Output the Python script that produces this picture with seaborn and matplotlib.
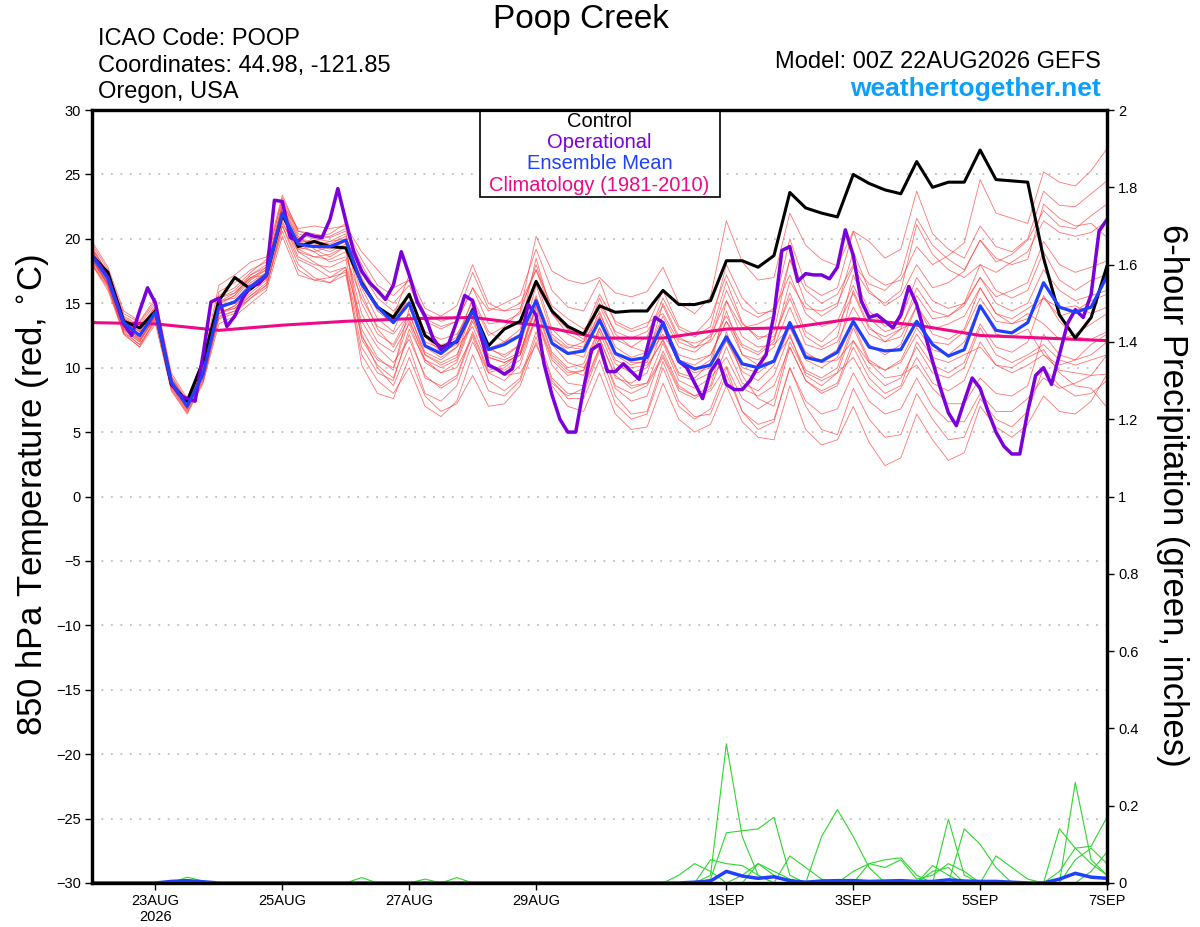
import matplotlib
matplotlib.use("Agg")
import matplotlib.pyplot as plt
from matplotlib.patches import Rectangle
import pandas as pd
import seaborn as sns

sns.set_theme(style="white")
plt.rcParams['font.family'] = ['Liberation Sans', 'DejaVu Sans']
plt.rcParams['text.color'] = 'black'
plt.rcParams['xtick.color'] = 'black'
plt.rcParams['ytick.color'] = 'black'

# --- tempos ---
times = pd.date_range("2026-08-22 00:00", periods=65, freq="6h")
times_op = pd.date_range("2026-08-22 00:00", periods=129, freq="3h")
times_clim = pd.date_range("2026-08-22", periods=17, freq="D")

# --- temperatura 850 hPa (C) ---
control = [18.7, 17.4, 13.6, 13.1, 14.4, 8.7, 7.4, 10.5, 15.2, 17.0, 16.1, 17.2, 21.9,
           19.4, 19.8, 19.4, 19.3, 16.6, 14.7, 13.9, 15.7, 12.5, 11.6, 12.0, 14.5, 11.7,
           13.0, 13.6, 16.7, 14.4, 13.2, 12.6, 14.8, 14.3, 14.4, 14.4, 16.0, 14.9, 14.9,
           15.2, 18.3, 18.3, 17.8, 18.7, 23.6, 22.4, 22.0, 21.7, 25.0, 24.3, 23.8, 23.5,
           26.0, 24.0, 24.4, 24.4, 26.9, 24.6, 24.5, 24.4, 18.5, 14.1, 12.3, 13.9, 17.9]

ens_mean = [18.7, 16.9, 13.5, 12.5, 14.3, 8.9, 7.0, 9.5, 14.7, 15.1, 16.3, 17.2, 22.0,
            19.6, 19.4, 19.4, 19.9, 16.5, 14.7, 13.5, 15.0, 11.7, 11.1, 12.1, 14.4, 11.4,
            11.8, 12.5, 15.2, 11.9, 11.1, 11.3, 13.7, 11.1, 10.6, 10.8, 13.5, 10.5, 9.9,
            10.2, 12.4, 10.3, 10.0, 10.5, 13.5, 10.8, 10.5, 11.2, 13.6, 11.6, 11.3, 11.4,
            13.6, 11.8, 10.9, 11.4, 14.8, 12.9, 12.7, 13.5, 16.6, 14.7, 14.3, 14.7, 17.1]

operational = [18.7, 17.9, 17.0, 15.2, 13.4, 12.5, 14.4, 16.2, 15.0, 11.7, 8.8, 7.9, 7.6,
               7.4, 11.0, 15.1, 15.4, 13.2, 14.0, 15.4, 16.3, 16.5, 17.2, 23.0, 22.9, 20.1,
               19.8, 20.4, 20.2, 20.1, 21.5, 23.9, 21.4, 19.0, 17.5, 16.6, 16.0, 15.3, 16.4,
               19.0, 17.2, 15.1, 14.0, 12.3, 11.4, 11.9, 13.6, 15.6, 15.2, 12.6, 10.2, 9.9,
               9.5, 9.9, 12.1, 14.9, 14.1, 10.3, 7.9, 6.0, 5.0, 5.0, 8.4, 11.4, 11.8,
               9.7, 9.7, 10.3, 9.7, 9.1, 11.5, 13.9, 13.5, 11.9, 10.5, 10.0, 8.8, 7.6,
               9.7, 10.6, 8.7, 8.3, 8.3, 9.0, 10.1, 11.0, 14.1, 19.1, 19.4, 16.7, 17.3,
               17.2, 17.2, 16.9, 17.8, 20.7, 18.7, 15.2, 13.9, 14.1, 13.6, 13.1, 14.1, 16.3,
               14.9, 12.7, 10.5, 8.4, 6.5, 5.5, 7.4, 9.2, 8.4, 6.6, 5.0, 3.9, 3.3,
               3.3, 6.6, 9.4, 10.0, 8.7, 11.0, 13.4, 14.5, 13.9, 15.7, 20.6, 21.5]

climatology = [13.5, 13.4, 12.9, 13.3, 13.6, 13.8, 13.9, 13.3, 12.3, 12.3, 13.0, 13.1,
               13.8, 13.3, 12.5, 12.3, 12.1]

# membros do ensemble (65 valores cada)
members = [
    [19.6, 17.6, 14.0, 13.3, 15.0, 9.3, 7.3, 10.3, 15.9, 16.6, 17.6, 18.2, 23.2, 20.6, 20.4, 20.1,
     20.6, 18.0, 15.8, 15.0, 16.4, 13.6, 13.0, 13.6, 16.2, 14.4, 15.0, 15.6, 19.2, 16.0, 14.7, 14.4,
     16.8, 13.4, 12.8, 13.2, 16.0, 13.2, 12.6, 13.9, 17.2, 14.6, 13.9, 14.6, 20.0, 16.4, 15.6, 16.2,
     20.6, 17.2, 16.4, 16.8, 19.4, 18.0, 18.7, 19.7, 24.6, 22.0, 21.6, 21.2, 25.2, 24.4, 24.1, 25.3, 27.0],
    [18.2, 16.5, 13.0, 12.0, 14.0, 8.6, 6.8, 9.2, 14.2, 14.8, 16.0, 17.0, 22.2, 19.8, 19.8, 19.6,
     20.2, 16.8, 14.8, 13.8, 15.2, 12.0, 11.5, 12.4, 15.2, 12.5, 13.2, 14.4, 20.2, 17.5, 16.8, 16.5,
     17.0, 15.8, 15.5, 15.9, 17.8, 15.0, 14.2, 15.5, 21.4, 18.2, 16.8, 17.0, 22.0, 19.5, 18.4, 17.9,
     20.6, 19.8, 18.5, 19.2, 23.7, 20.4, 19.2, 18.5, 21.0, 19.4, 19.0, 20.0, 23.7, 22.6, 22.5, 23.5, 24.5],
    [19.0, 17.2, 13.6, 12.8, 14.6, 9.0, 7.1, 9.8, 15.2, 15.4, 16.8, 17.6, 22.6, 20.0, 19.6, 19.2,
     19.8, 15.0, 12.6, 11.8, 14.2, 11.0, 10.4, 11.0, 13.8, 11.5, 12.0, 12.6, 16.8, 13.0, 11.8, 11.6,
     15.0, 12.8, 12.3, 12.8, 14.8, 12.2, 11.9, 12.4, 15.2, 13.1, 13.4, 14.0, 18.4, 16.0, 15.0, 15.7,
     18.0, 16.5, 16.0, 17.2, 21.6, 19.5, 18.4, 17.6, 19.9, 18.2, 18.8, 19.9, 22.2, 21.0, 20.8, 21.8, 22.7],
    [18.4, 16.4, 13.2, 12.3, 14.4, 8.8, 7.0, 9.6, 14.6, 15.2, 16.4, 17.4, 21.8, 19.2, 19.4, 19.8,
     20.4, 16.2, 13.8, 12.8, 15.8, 12.4, 11.2, 11.8, 14.2, 11.0, 10.6, 11.2, 14.8, 12.2, 11.5, 12.0,
     15.4, 12.6, 11.6, 11.2, 13.2, 11.0, 10.6, 11.0, 13.6, 11.6, 11.0, 12.0, 16.7, 14.6, 14.4, 15.0,
     17.8, 15.8, 15.0, 16.0, 21.1, 18.8, 17.6, 17.0, 18.0, 17.4, 18.2, 19.0, 21.4, 20.5, 20.2, 20.5, 21.4],
    [19.0, 17.0, 13.4, 12.2, 14.0, 8.7, 6.9, 9.4, 14.9, 15.6, 16.9, 17.8, 22.8, 20.2, 19.2, 18.6,
     19.4, 13.0, 10.8, 9.8, 14.6, 12.4, 11.8, 12.0, 15.4, 12.8, 12.0, 13.0, 18.5, 14.2, 13.0, 12.6,
     15.7, 13.6, 13.0, 13.5, 14.2, 12.0, 11.5, 12.6, 16.7, 13.5, 12.2, 12.8, 18.4, 15.0, 14.0, 14.8,
     19.0, 16.0, 14.8, 15.6, 18.0, 16.2, 16.6, 17.5, 19.9, 18.5, 18.0, 18.4, 22.7, 21.6, 21.0, 21.2, 20.1],
    [18.6, 16.8, 13.4, 12.6, 14.2, 8.9, 7.0, 9.4, 14.4, 14.6, 15.8, 16.8, 21.6, 19.4, 19.0, 19.4,
     19.9, 16.6, 14.4, 13.4, 15.0, 11.6, 10.8, 11.6, 14.2, 10.8, 10.4, 11.0, 15.4, 12.4, 11.2, 10.8,
     13.9, 11.2, 10.6, 10.8, 12.6, 10.6, 10.2, 11.0, 13.6, 11.0, 10.6, 11.6, 14.7, 11.8, 11.4, 12.0,
     14.7, 12.6, 12.0, 13.0, 16.2, 14.4, 14.0, 14.8, 17.0, 15.5, 16.0, 16.6, 19.8, 18.0, 17.4, 17.8, 18.3],
    [18.0, 16.2, 12.8, 11.8, 13.8, 8.4, 6.6, 9.0, 14.0, 14.4, 15.6, 16.6, 21.2, 19.0, 18.6, 18.8,
     19.4, 12.2, 10.2, 9.2, 12.6, 9.2, 8.6, 9.4, 12.8, 9.8, 10.2, 11.2, 14.8, 11.2, 10.0, 10.3,
     13.1, 10.3, 9.6, 10.0, 12.2, 9.6, 9.2, 10.4, 12.1, 9.7, 9.0, 10.2, 13.1, 10.6, 10.0, 10.8,
     13.6, 11.8, 11.0, 11.8, 14.8, 12.6, 12.2, 13.0, 16.2, 14.2, 13.8, 14.6, 15.4, 14.0, 14.4, 15.2, 15.7],
    [18.8, 17.0, 13.8, 13.0, 14.8, 9.1, 7.2, 9.9, 15.4, 15.8, 17.0, 17.6, 22.4, 19.6, 19.0, 18.2,
     18.6, 15.4, 13.2, 12.6, 14.2, 11.2, 10.6, 11.6, 13.2, 10.2, 9.8, 10.6, 14.0, 10.8, 9.6, 9.8,
     12.3, 9.2, 8.8, 9.6, 13.1, 10.4, 9.6, 10.0, 15.2, 12.4, 11.6, 11.8, 13.1, 11.0, 10.6, 11.4,
     16.0, 13.2, 12.0, 12.4, 14.8, 13.0, 13.4, 14.0, 16.2, 14.2, 13.4, 13.8, 15.4, 14.6, 14.8, 14.2, 14.7],
    [19.2, 17.4, 13.8, 12.9, 14.5, 9.0, 7.0, 9.7, 15.0, 15.6, 17.2, 18.0, 22.0, 19.2, 18.6, 18.4,
     19.0, 14.2, 12.0, 11.2, 13.4, 10.4, 9.6, 10.4, 13.6, 10.8, 10.4, 11.0, 13.9, 10.6, 9.4, 9.8,
     13.1, 10.6, 10.0, 10.2, 12.1, 9.4, 9.0, 9.6, 12.1, 10.0, 9.6, 10.6, 13.6, 11.2, 10.4, 10.6,
     12.1, 10.4, 9.8, 10.6, 13.1, 11.4, 11.0, 12.0, 14.8, 12.6, 12.4, 13.0, 11.0, 10.2, 10.6, 11.8, 12.6],
    [18.3, 16.6, 13.1, 12.1, 13.9, 8.6, 6.8, 9.3, 14.2, 14.8, 16.1, 16.9, 21.4, 18.6, 18.0, 17.8,
     18.4, 12.6, 10.0, 8.6, 11.6, 8.0, 7.4, 8.6, 12.0, 9.6, 10.0, 11.0, 14.6, 11.0, 9.8, 9.4,
     12.8, 9.8, 8.6, 8.8, 11.9, 9.0, 8.4, 9.2, 10.8, 8.4, 7.8, 8.6, 11.6, 9.0, 8.2, 8.8,
     12.1, 9.8, 8.6, 9.2, 11.6, 9.6, 9.2, 10.0, 13.1, 11.0, 10.4, 11.0, 11.8, 10.6, 10.2, 10.6, 11.0],
    [18.5, 16.5, 12.9, 12.0, 14.1, 8.8, 6.9, 9.4, 14.6, 15.0, 16.2, 17.0, 21.8, 19.0, 18.2, 17.4,
     17.8, 13.6, 11.6, 10.4, 12.2, 9.4, 8.4, 9.2, 12.6, 9.6, 9.0, 10.2, 13.9, 10.2, 8.8, 8.6,
     11.6, 8.6, 8.0, 8.6, 10.8, 8.2, 7.6, 8.4, 11.6, 8.8, 8.2, 9.4, 12.6, 9.4, 8.6, 9.6,
     10.8, 8.6, 7.6, 8.4, 10.8, 8.8, 8.2, 9.0, 12.0, 10.2, 9.6, 10.2, 11.0, 9.8, 9.6, 9.4, 9.5],
    [19.4, 17.3, 13.9, 13.1, 14.7, 9.2, 7.3, 10.0, 15.6, 16.2, 17.4, 18.4, 23.0, 20.4, 20.0, 19.8,
     20.0, 17.4, 15.4, 14.4, 15.6, 12.8, 12.2, 12.6, 14.6, 11.4, 11.0, 11.8, 16.4, 12.6, 11.6, 11.4,
     14.4, 11.2, 10.4, 10.4, 13.4, 10.4, 9.8, 10.6, 14.4, 11.0, 10.2, 10.6, 12.4, 9.8, 9.2, 10.0,
     13.4, 10.6, 9.8, 10.4, 12.6, 10.8, 10.4, 11.0, 11.6, 10.2, 10.0, 10.8, 11.4, 9.6, 8.6, 8.4, 6.9],
    [18.1, 16.3, 12.7, 11.8, 13.6, 8.3, 6.5, 8.9, 13.8, 14.2, 15.4, 16.4, 20.6, 17.6, 16.8, 16.6,
     17.2, 11.0, 9.0, 8.0, 10.0, 7.0, 6.2, 7.4, 11.0, 8.2, 7.8, 9.0, 12.4, 9.0, 7.6, 7.6,
     10.6, 7.2, 6.0, 6.4, 10.0, 7.0, 6.0, 6.8, 10.0, 6.6, 5.2, 5.8, 10.0, 7.0, 5.2, 4.8,
     8.4, 6.0, 4.6, 4.8, 8.0, 6.0, 4.4, 4.6, 7.6, 6.0, 5.4, 6.6, 10.0, 8.6, 7.8, 8.0, 9.0],
    [18.9, 16.9, 13.3, 12.4, 14.0, 8.8, 6.8, 9.3, 14.8, 15.2, 16.6, 17.4, 22.0, 19.8, 19.4, 19.0,
     19.6, 15.8, 13.0, 11.6, 13.8, 10.6, 9.6, 10.0, 12.4, 9.0, 8.2, 9.2, 12.8, 9.2, 8.0, 8.0,
     11.3, 7.8, 6.4, 6.6, 10.5, 7.4, 6.2, 6.4, 9.5, 6.6, 5.6, 6.0, 10.0, 7.4, 6.4, 6.8,
     9.6, 7.4, 6.4, 6.8, 9.2, 7.0, 5.8, 5.8, 8.0, 6.6, 6.6, 7.6, 9.2, 8.4, 8.8, 9.4, 11.0],
    [18.6, 16.4, 12.6, 11.6, 13.4, 8.2, 6.4, 8.8, 13.4, 14.0, 15.0, 16.0, 20.2, 17.2, 16.8, 17.0,
     17.8, 10.2, 8.0, 7.6, 10.8, 7.8, 6.6, 7.2, 9.4, 7.0, 7.2, 8.6, 12.0, 8.6, 7.0, 6.6,
     9.6, 6.4, 5.2, 5.4, 8.8, 6.0, 5.0, 5.6, 8.6, 5.8, 4.6, 4.4, 8.6, 5.2, 4.0, 4.4,
     7.0, 4.2, 2.4, 3.0, 6.4, 4.4, 2.8, 3.4, 7.0, 5.4, 4.6, 5.6, 7.8, 6.6, 6.4, 7.4, 9.5],
    [19.2, 17.4, 14.2, 13.5, 15.2, 9.4, 7.4, 10.2, 15.4, 16.0, 17.2, 17.8, 22.6, 20.8, 21.0, 20.8,
     21.0, 19.0, 17.6, 16.2, 16.8, 14.2, 13.6, 14.0, 17.4, 14.6, 14.4, 15.0, 17.6, 14.8, 13.8, 13.0,
     14.2, 11.6, 10.8, 11.2, 14.0, 11.6, 11.2, 12.2, 16.0, 13.4, 12.4, 12.4, 15.4, 12.4, 11.6, 12.4,
     17.2, 14.4, 13.2, 13.8, 17.0, 15.2, 14.6, 15.0, 18.0, 16.0, 15.4, 16.0, 19.0, 16.8, 16.0, 16.8, 17.2],
    [18.4, 16.6, 13.0, 12.2, 14.2, 8.8, 6.9, 9.4, 14.2, 14.6, 15.6, 16.4, 21.0, 18.4, 17.8, 17.0,
     17.4, 11.6, 9.6, 9.0, 13.0, 10.6, 10.0, 10.6, 13.9, 10.4, 9.4, 9.6, 11.8, 8.8, 7.8, 8.4,
     11.5, 8.4, 7.4, 7.8, 11.3, 8.6, 7.8, 8.6, 12.8, 9.4, 7.6, 7.0, 11.6, 9.0, 8.0, 8.6,
     11.6, 9.2, 8.0, 8.6, 12.0, 10.2, 9.6, 10.4, 13.4, 11.6, 11.2, 12.0, 15.6, 13.6, 12.4, 12.2, 12.8],
    [19.8, 17.8, 14.4, 13.6, 15.4, 9.6, 7.6, 10.6, 16.4, 17.2, 18.2, 18.6, 23.4, 20.6, 20.2, 20.4,
     21.2, 17.0, 14.6, 14.0, 17.2, 14.6, 14.0, 14.8, 18.0, 15.0, 14.4, 14.6, 17.6, 14.2, 12.6, 12.0,
     14.0, 11.0, 10.2, 10.6, 15.0, 12.4, 11.6, 12.0, 14.0, 11.8, 11.2, 12.2, 15.8, 12.8, 12.0, 13.2,
     15.8, 13.0, 12.4, 13.0, 13.6, 12.0, 11.8, 12.8, 15.4, 13.6, 13.4, 14.2, 13.4, 12.2, 12.6, 13.4, 14.2],
    [18.0, 16.0, 12.6, 11.6, 13.8, 8.5, 6.7, 9.1, 13.9, 14.4, 15.4, 16.2, 21.0, 18.0, 17.0, 16.6,
     17.6, 12.4, 10.6, 10.0, 13.6, 11.0, 10.2, 10.8, 14.8, 11.6, 10.8, 11.8, 15.6, 11.8, 10.4, 10.0,
     12.2, 9.4, 8.4, 8.8, 11.0, 8.4, 7.8, 8.2, 10.1, 7.6, 6.8, 7.6, 12.0, 9.6, 9.0, 9.6,
     13.1, 10.4, 9.2, 9.4, 10.2, 8.4, 7.2, 7.2, 9.2, 8.0, 7.8, 8.6, 12.6, 11.0, 10.6, 11.0, 12.0],
    [19.1, 17.1, 13.6, 12.8, 14.6, 9.1, 7.2, 9.8, 15.1, 15.8, 17.0, 17.2, 22.4, 20.0, 19.8, 20.2,
     20.8, 18.4, 16.4, 15.6, 16.8, 13.8, 13.2, 13.6, 16.2, 13.4, 13.6, 14.2, 18.0, 14.4, 13.0, 12.2,
     14.8, 12.2, 11.6, 12.4, 15.4, 13.0, 12.4, 13.2, 18.0, 15.4, 14.2, 14.4, 17.2, 14.2, 13.2, 13.6,
     16.4, 13.8, 12.8, 13.2, 15.6, 13.8, 14.0, 15.0, 17.0, 15.0, 14.4, 15.0, 17.6, 16.0, 15.2, 15.6, 16.0],
]

# --- precipitacao 6h (pol) ---
precip_members = [
    [0, 0, 0, 0, 0, 0, 0.015, 0.005, 0, 0, 0, 0, 0,
     0, 0, 0, 0, 0, 0, 0, 0, 0, 0, 0, 0, 0,
     0, 0, 0, 0, 0, 0, 0, 0, 0, 0, 0, 0, 0,
     0.02, 0.36, 0.12, 0.02, 0, 0, 0, 0, 0, 0, 0, 0, 0,
     0, 0, 0, 0, 0, 0, 0, 0, 0, 0, 0, 0, 0],
    [0, 0, 0, 0, 0, 0, 0, 0, 0, 0, 0, 0, 0,
     0, 0, 0, 0, 0.014, 0, 0, 0, 0, 0, 0, 0, 0,
     0, 0, 0, 0, 0, 0, 0, 0, 0, 0, 0, 0, 0,
     0.01, 0.13, 0.135, 0.14, 0.17, 0.02, 0, 0, 0, 0, 0, 0, 0,
     0, 0, 0, 0, 0, 0, 0, 0, 0, 0.14, 0.09, 0.05, 0.02],
    [0, 0, 0, 0, 0, 0, 0, 0, 0, 0, 0, 0, 0,
     0, 0, 0, 0, 0, 0, 0, 0, 0.01, 0, 0, 0, 0,
     0, 0, 0, 0, 0, 0, 0, 0, 0, 0, 0, 0.02, 0.05,
     0.03, 0, 0, 0.05, 0.02, 0, 0, 0, 0, 0, 0.05, 0.04, 0.06,
     0.01, 0.02, 0.05, 0.03, 0, 0, 0, 0, 0, 0, 0, 0, 0],
    [0, 0, 0, 0, 0, 0, 0, 0, 0, 0, 0, 0, 0,
     0, 0, 0, 0, 0, 0, 0, 0, 0, 0, 0.014, 0, 0,
     0, 0, 0, 0, 0, 0, 0, 0, 0, 0, 0, 0, 0,
     0.06, 0.05, 0.045, 0.02, 0, 0.07, 0.04, 0.01, 0, 0, 0, 0, 0,
     0, 0.045, 0.02, 0, 0, 0, 0, 0, 0, 0, 0.06, 0.09, 0.05],
    [0, 0, 0, 0, 0, 0, 0, 0, 0, 0, 0, 0, 0,
     0, 0, 0, 0, 0, 0, 0, 0, 0, 0, 0, 0, 0,
     0, 0, 0, 0, 0, 0, 0, 0, 0, 0, 0, 0, 0,
     0, 0, 0, 0, 0, 0, 0, 0.12, 0.19, 0.12, 0.04, 0, 0,
     0, 0, 0, 0, 0, 0, 0, 0, 0, 0, 0, 0, 0],
    [0, 0, 0, 0, 0, 0, 0, 0, 0, 0, 0, 0, 0,
     0, 0, 0, 0, 0, 0, 0, 0, 0, 0, 0, 0, 0,
     0, 0, 0, 0, 0, 0, 0, 0, 0, 0, 0, 0, 0,
     0, 0, 0, 0, 0, 0, 0, 0, 0, 0.03, 0.05, 0.06, 0.065,
     0.02, 0, 0.165, 0.02, 0, 0, 0, 0, 0, 0, 0.26, 0.06, 0.02],
    [0, 0, 0, 0, 0, 0, 0, 0, 0, 0, 0, 0, 0,
     0, 0, 0, 0, 0, 0, 0, 0, 0, 0, 0, 0, 0,
     0, 0, 0, 0, 0, 0, 0, 0, 0, 0, 0, 0, 0,
     0, 0, 0, 0, 0, 0, 0, 0, 0, 0, 0, 0, 0,
     0, 0, 0, 0.14, 0.10, 0.04, 0, 0, 0, 0.03, 0.09, 0.095, 0.17],
    [0, 0, 0, 0, 0, 0, 0, 0, 0, 0, 0, 0, 0,
     0, 0, 0, 0, 0, 0, 0, 0, 0, 0, 0, 0, 0,
     0, 0, 0, 0, 0, 0, 0, 0, 0, 0, 0, 0, 0,
     0, 0, 0.02, 0.05, 0.03, 0.01, 0, 0, 0, 0, 0, 0, 0,
     0, 0.03, 0.04, 0, 0, 0.07, 0.04, 0.01, 0, 0, 0, 0.03, 0.08],
]

precip_mean = [0, 0, 0, 0, 0, 0.004, 0.006, 0.003, 0, 0, 0, 0, 0,
               0, 0, 0, 0, 0, 0, 0, 0, 0, 0, 0, 0, 0,
               0, 0, 0, 0, 0, 0, 0, 0, 0, 0, 0, 0, 0.002,
               0.005, 0.03, 0.018, 0.012, 0.016, 0.006, 0.002, 0.005, 0.006, 0.006, 0.004, 0.005, 0.006,
               0.004, 0.004, 0.008, 0.005, 0.004, 0.004, 0.002, 0, 0, 0.01, 0.025, 0.015, 0.012]

tick_days = ["2026-08-23", "2026-08-25", "2026-08-27", "2026-08-29",
             "2026-09-01", "2026-09-03", "2026-09-05", "2026-09-07"]
tick_labels = ["23AUG\n2026", "25AUG", "27AUG", "29AUG", "1SEP", "3SEP", "5SEP", "7SEP"]

cor_oper = "#7b00dc"
cor_media = "#2040ff"
cor_clim = "#ec0a86"

# tabelas longas para o seaborn
linhas = []
for m, vals in enumerate(members):
    for t, v in zip(times, vals):
        linhas.append((m, t, v))
df_ens = pd.DataFrame(linhas, columns=["member", "time", "temp"])

linhas = []
for m, vals in enumerate(precip_members):
    for t, v in zip(times, vals):
        linhas.append((m, t, v))
df_prec = pd.DataFrame(linhas, columns=["member", "time", "precip"])

fig = plt.figure(figsize=(12, 9.27), dpi=100)
ax = fig.add_axes([0.0767, 0.0475, 0.8458, 0.8338])

ax.yaxis.grid(True, linestyle=(0, (1.2, 5)), color="#b4b4b4", linewidth=1.1)
ax.set_axisbelow(True)

sns.lineplot(data=df_ens, x="time", y="temp", units="member", estimator=None,
             color="#ff3a3a", linewidth=0.6, alpha=0.7, ax=ax, legend=False)
sns.lineplot(x=times_clim, y=climatology, color=cor_clim, linewidth=2.2, ax=ax)
sns.lineplot(x=times, y=control, color="black", linewidth=2.2, ax=ax)
sns.lineplot(x=times_op, y=operational, color=cor_oper, linewidth=2.5, ax=ax)
sns.lineplot(x=times, y=ens_mean, color=cor_media, linewidth=2.3, ax=ax)

ax.set_xlim(times[0], times[-1])
ax.set_ylim(-30, 30)
ax.set_yticks(range(-30, 31, 5))
ax.set_xticks(pd.to_datetime(tick_days))
ax.set_xticklabels(tick_labels)
ax.set_xlabel("")
ax.set_ylabel("")
ax.tick_params(axis="both", direction="out", length=5, width=1, labelsize=10.5,
               colors="black", pad=3, bottom=True, left=True)
for s in ax.spines.values():
    s.set_color("black")
    s.set_linewidth(2.3)

# eixo da precipitacao
ax2 = ax.twinx()
sns.lineplot(data=df_prec, x="time", y="precip", units="member", estimator=None,
             color="#2ed62e", linewidth=0.8, ax=ax2, legend=False)
sns.lineplot(x=times, y=precip_mean, color=cor_media, linewidth=2.5, ax=ax2)
ax2.set_ylim(0, 2)
ax2.set_xlim(times[0], times[-1])
prec_ticks = [0, 0.2, 0.4, 0.6, 0.8, 1, 1.2, 1.4, 1.6, 1.8, 2]
ax2.set_yticks(prec_ticks)
ax2.set_yticklabels([f"{v:g}" for v in prec_ticks])
ax2.set_ylabel("")
ax2.grid(False)
ax2.tick_params(axis="y", direction="out", length=5, width=1, labelsize=10.5,
                colors="black", pad=3, right=True)
for s in ax2.spines.values():
    s.set_color("black")
    s.set_linewidth(2.3)

# legenda em caixa
ax.add_patch(Rectangle((0.382, 0.8875), 0.237, 0.1125, transform=ax.transAxes,
                       facecolor="white", edgecolor="black", linewidth=1.2, zorder=5))
leg_txt = [("Control", "black"), ("Operational", cor_oper),
           ("Ensemble Mean", cor_media), ("Climatology (1981-2010)", cor_clim)]
for k, (txt, cor) in enumerate(leg_txt):
    ax.text(0.5, 0.9858 - k * 0.0277, txt, color=cor, fontsize=14.5, ha="center",
            va="center", transform=ax.transAxes, zorder=6)

# textos do cabecalho
fig.text(0.484, 0.979, "Poop Creek", fontsize=24, ha="center", va="center")
fig.text(0.0817, 0.958, "ICAO Code: POOP", fontsize=17, ha="left", va="center")
fig.text(0.0817, 0.929, "Coordinates: 44.98, -121.85", fontsize=17, ha="left", va="center")
fig.text(0.0817, 0.901, "Oregon, USA", fontsize=17, ha="left", va="center")
fig.text(0.9175, 0.933, "Model: 00Z 22AUG2026 GEFS", fontsize=17, ha="right", va="center")
fig.text(0.9175, 0.904, "weathertogether.net", fontsize=19, fontweight="bold",
         color="#0ea0f8", ha="right", va="center")

fig.text(0.027, 0.466, "850 hPa Temperature (red, $^{\\circ}$C)", fontsize=25,
         rotation=90, ha="center", va="center")
fig.text(0.977, 0.466, "6-hour Precipitation (green, inches)", fontsize=25,
         rotation=270, ha="center", va="center")

fig.savefig("out.png", dpi=100)
